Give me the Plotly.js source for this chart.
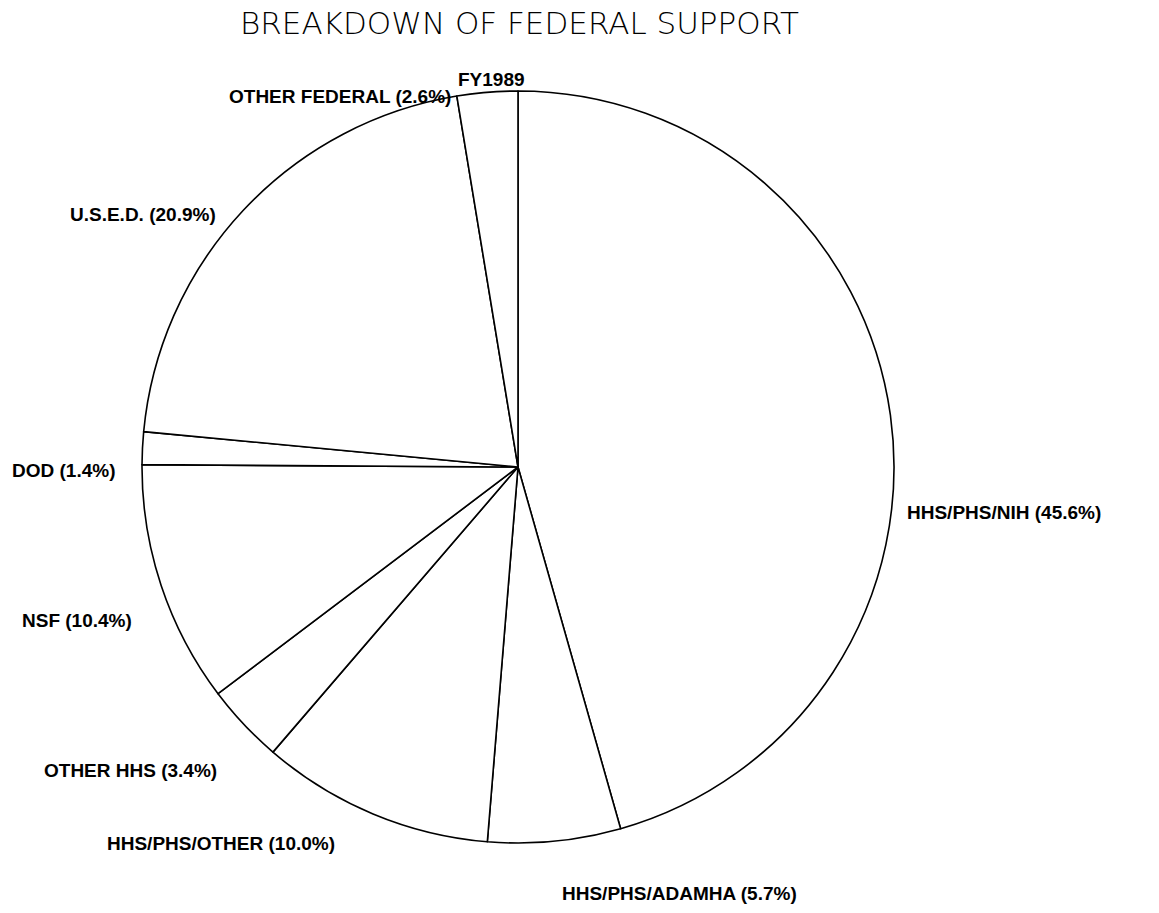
<!DOCTYPE html>
<html>
<head>
<meta charset="utf-8">
<script src="https://cdn.plot.ly/plotly-3.0.1.min.js"></script>
<style>
html,body{margin:0;padding:0;background:#fff;}
#chart{width:1159px;height:913px;}
</style>
</head>
<body>
<div id="chart"></div>
<script>
// Data
const agencies = ["HHS/PHS/NIH", "HHS/PHS/ADAMHA", "HHS/PHS/OTHER", "OTHER HHS", "NSF", "DOD", "U.S.E.D.", "OTHER FEDERAL"];
const shares = [45.6, 5.7, 10.0, 3.4, 10.4, 1.4, 20.9, 2.6];
const chartTitle = "BREAKDOWN OF FEDERAL SUPPORT";
const subTitle = "FY1989";

// Layout: label anchor positions in pixels (anchor x, vertical centre) and horizontal anchors
const W = 1159, H = 913;
const labelPos = [
  [905, 512], [560, 893], [105, 843], [42, 770],
  [20, 620], [10, 470], [68, 215], [453, 97]
];
const labelAnchor = ["left", "left", "left", "left", "left", "left", "left", "right"];
const labelFont = {family: "Liberation Sans, Arial, sans-serif", size: 19, color: "#000"};

const pieCx = 518, pieCy = 467, pieR = 376;

const annotations = agencies.map((a, i) => ({
  text: "<b>" + a + " (" + shares[i].toFixed(1) + "%)</b>",
  xref: "paper", yref: "paper",
  x: labelPos[i][0] / W, y: 1 - labelPos[i][1] / H,
  xanchor: labelAnchor[i], yanchor: "middle",
  showarrow: false, font: labelFont
}));
annotations.push({
  text: "<b>" + subTitle + "</b>",
  xref: "paper", yref: "paper",
  x: 456 / W, y: 1 - 79 / H, xanchor: "left", yanchor: "middle",
  showarrow: false, font: labelFont
});
annotations.push({
  text: chartTitle,
  xref: "paper", yref: "paper",
  x: 519 / W, y: 1 - 23 / H, xanchor: "center", yanchor: "middle",
  showarrow: false,
  font: {family: "DejaVu Sans, sans-serif", size: 31, color: "#000", weight: 300}
});

const trace = {
  type: "pie",
  labels: agencies,
  values: shares,
  sort: false,
  direction: "clockwise",
  rotation: 0,
  textinfo: "none",
  hoverinfo: "label+percent",
  marker: {colors: agencies.map(() => "#ffffff"), line: {color: "#000", width: 1.6}},
  domain: {
    x: [(pieCx - pieR) / W, (pieCx + pieR) / W],
    y: [(H - pieCy - pieR) / H, (H - pieCy + pieR) / H]
  },
  showlegend: false
};

const layout = {
  width: W, height: H,
  margin: {l: 0, r: 0, t: 0, b: 0},
  paper_bgcolor: "#fff", plot_bgcolor: "#fff",
  showlegend: false,
  annotations: annotations
};

Plotly.newPlot("chart", [trace], layout, {displayModeBar: false, staticPlot: true});
</script>
</body>
</html>
